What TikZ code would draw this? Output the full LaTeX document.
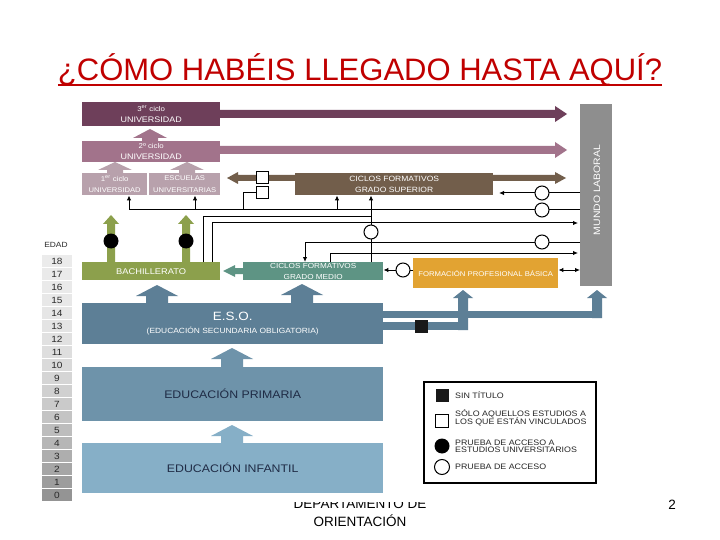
\documentclass[tikz,border=0pt]{standalone}
\usepackage{fontspec}
\setmainfont{Liberation Sans}
\newfontfamily\wf[FakeStretch=1.12]{Liberation Sans}
\usetikzlibrary{arrows.meta}
\definecolor{cTres}{HTML}{6E3F5A}
\definecolor{cDos}{HTML}{A2738B}
\definecolor{cUno}{HTML}{B8A1AC}
\definecolor{cBrown}{HTML}{725E4B}
\definecolor{cGreen}{HTML}{8CA04C}
\definecolor{cTeal}{HTML}{5E9484}
\definecolor{cOrange}{HTML}{E2A332}
\definecolor{cGray}{HTML}{8E8E8E}
\definecolor{cEso}{HTML}{5D7F96}
\definecolor{cPrim}{HTML}{6E93AA}
\definecolor{cInf}{HTML}{86AFC7}
\definecolor{cNavy}{HTML}{1F2B45}
\definecolor{cTitle}{HTML}{C00000}
\definecolor{cAge}{HTML}{2A2A2A}
\newcommand{\fsz}[1]{\fontsize{#1}{#1}\selectfont}
\newcommand{\barR}[7]{\fill[#7] (#2,#1-#4) -- (#3-#6,#1-#4) -- (#3-#6,#1-#5) -- (#3,#1) -- (#3-#6,#1+#5) -- (#3-#6,#1+#4) -- (#2,#1+#4) -- cycle;}
\newcommand{\barL}[7]{\fill[#7] (#2,#1-#4) -- (#3+#6,#1-#4) -- (#3+#6,#1-#5) -- (#3,#1) -- (#3+#6,#1+#5) -- (#3+#6,#1+#4) -- (#2,#1+#4) -- cycle;}
\newcommand{\barU}[7]{\fill[#7] (#1-#4,#2) -- (#1-#4,#3+#6) -- (#1-#5,#3+#6) -- (#1,#3) -- (#1+#5,#3+#6) -- (#1+#4,#3+#6) -- (#1+#4,#2) -- cycle;}
\begin{document}
\begin{tikzpicture}[x=1pt,y=-1pt,
  box/.style={inner sep=0pt, anchor=north west, text=white, align=center, font=\wf},
  ln/.style={line width=1pt, black},
  arr/.style={-{Latex[length=5pt,width=4.5pt]}},
  circ/.style={circle, draw, line width=1pt, fill=white, minimum size=14pt, inner sep=0pt},
  bcirc/.style={circle, fill=black, minimum size=15pt, inner sep=0pt},
  wsq/.style={draw, line width=1pt, fill=white, minimum size=12pt, inner sep=0pt},
  bsq/.style={fill=black!90, minimum size=13pt, inner sep=0pt},
  legtxt/.style={anchor=west, align=left, font=\wf\fsz{7.9}, text=black!85, inner sep=0pt}]
\useasboundingbox (0,0) rectangle (720,540);
\fill[white] (0,0) rectangle (720,540);
% title
\node[font=\fsz{31}, text=cTitle, anchor=base, inner sep=0pt] (title) at (360,81) {¿CÓMO HABÉIS LLEGADO HASTA AQUÍ?};
\draw[cTitle, line width=1.8pt] (title.base west |- 0,85) -- (title.base east |- 0,85);
% age column
\node[font=\wf\fsz{7.5}, text=cAge] (edad) at (56,245) {EDAD};
\foreach \a in {0,...,18}{
  \pgfmathsetmacro\yy{261+(18-\a)*13}
  \pgfmathsetmacro\sh{8+34*((18-\a)/18)^2}
  \fill[black!\sh!white] (42,\yy-6.3) rectangle (72,\yy+6);
  \node[font=\wf\fsz{9}, text=cAge] (age\a) at (57,\yy) {\a};
}
% boxes
\node[box, fill=cTres, minimum width=138pt, minimum height=24pt] (u3) at (82,102) {\fsz{7}3\textsuperscript{er} ciclo\\[-0.5pt]\fsz{8}UNIVERSIDAD};
\node[box, fill=cDos, minimum width=138pt, minimum height=21pt] (u2) at (82,141) {\fsz{7}2º ciclo\\[-1pt]\fsz{8}UNIVERSIDAD};
\node[box, fill=cUno, minimum width=65pt, minimum height=22pt] (u1) at (82,173) {\fsz{7}1\textsuperscript{er} ciclo\\[-0.5pt]\fsz{6.8}UNIVERSIDAD};
\node[box, fill=cUno, minimum width=71pt, minimum height=22pt] (esc) at (149,173) {\fsz{6.8}ESCUELAS\\[-0.5pt]\fsz{6.8}UNIVERSITARIAS};
\node[box, fill=cBrown, minimum width=198pt, minimum height=22pt] (gs) at (295,173) {\fsz{7.6}CICLOS FORMATIVOS\\[-1pt]\fsz{7.6}GRADO SUPERIOR};
\node[box, fill=cGreen, minimum width=138pt, minimum height=18pt] (bach) at (82,262) {\fsz{8.3}BACHILLERATO};
\node[box, fill=cTeal, minimum width=140pt, minimum height=18pt] (gm) at (243,262) {\fsz{7.3}CICLOS FORMATIVOS\\[-1.2pt]\fsz{7.3}GRADO MEDIO};
\node[box, fill=cOrange, minimum width=145pt, minimum height=30pt] (fpb) at (413,258) {\fsz{6.9}FORMACIÓN PROFESIONAL BÁSICA};
\node[box, fill=cGray, minimum width=32pt, minimum height=182pt] (ml) at (580,104) {};
\node[rotate=90, font=\wf\fsz{9.3}, text=white, inner sep=0pt] (mltxt) at (597,190) {MUNDO LABORAL};
\node[box, fill=cEso, minimum width=301pt, minimum height=41pt] (eso) at (82,303) {\fsz{12}E.S.O.\\[1pt]\fsz{7.5}(EDUCACIÓN SECUNDARIA OBLIGATORIA)};
\node[box, fill=cPrim, minimum width=301pt, minimum height=54pt, text=cNavy] (prim) at (82,367) {\fsz{11}EDUCACIÓN PRIMARIA};
\node[box, fill=cInf, minimum width=301pt, minimum height=50pt, text=cNavy] (inf) at (82,443) {\fsz{11}EDUCACIÓN INFANTIL};
% thick arrows
\barR{114}{220}{567}{4}{8}{12}{cTres}
\barR{150}{220}{567}{4}{8}{12}{cDos}
\barR{178}{493}{566}{3}{6}{11}{cBrown}
\barL{178}{295}{227}{3}{6}{11}{cBrown}
\barL{271}{243}{223}{3}{6}{12}{cTeal}
\barU{150}{141}{129}{8}{17}{9}{cDos}
\barU{115}{173}{162}{8}{17}{8}{cUno}
\barU{187}{173}{162}{8}{17}{8}{cUno}
\barU{111}{262}{215}{4}{8}{9}{cGreen}
\barU{186}{262}{215}{4}{8}{9}{cGreen}
\barU{157}{303}{285}{11}{21}{11}{cEso}
\barU{302}{303}{284}{11}{21}{11}{cEso}
\barU{232}{367}{348}{11}{21}{11}{cPrim}
\barU{232}{443}{425}{11}{21}{11}{cInf}
% ESO pipes
\fill[cEso] (383,311) rectangle (602,318);
\barU{597}{318}{290}{5}{10}{8}{cEso}
\fill[cEso] (383,322) rectangle (468,330);
\barU{463}{330}{290}{5}{10}{8}{cEso}
% thin connectors
\coordinate (sq2w) at (256,193);
\draw[ln,arr] (ml.west |- 0,210) -- (129,210) -- (u1.south -| 129,0);
\draw[ln,arr] (195,210) -- (esc.south -| 195,0);
\draw[ln,arr] (337,210) -- (gs.south -| 337,0);
\draw[ln] (243,210) -- (243,193) -- (sq2w);
\draw[ln] (bach.north -| 203,0) -- (203,217) -- (371,217);
\draw[ln,arr] (bach.north -| 212,0) -- (212,223) -- (578,223);
\draw[ln,arr] (gm.north -| 371,0) -- (gs.south -| 371,0);
\draw[ln,arr] (ml.west |- 0,242) -- (305,242) -- (gm.north -| 305,0);
\draw[ln,arr] (gm.north -| 330,0) -- (330,253) -- (578,253);
\draw[ln,arr] (ml.west |- 0,193) -- (499,193);
\draw[ln,{Latex[length=5pt,width=4.5pt]}-{Latex[length=5pt,width=4.5pt]}] (fpb.east |- 0,270) -- (ml.west |- 0,270);
\draw[ln,arr] (fpb.west |- 0,270) -- (gm.east |- 0,270);
% markers
\node[circ] (k1) at (542,193) {};
\node[circ] (k2) at (542,210) {};
\node[circ] (k3) at (371,232) {};
\node[circ] (k4) at (542,242) {};
\node[circ] (k5) at (403,270) {};
\node[bcirc] (b1) at (111,241) {};
\node[bcirc] (b2) at (186,241) {};
\node[wsq] (s1) at (262,178) {};
\node[wsq] (s2) at (262,193) {};
\node[bsq] (s3) at (421,326) {};
% legend
\node[draw, line width=1.5pt, minimum width=172pt, minimum height=101pt, anchor=north west, inner sep=0pt] (leg) at (423,381) {};
\node[bsq] (lg1) at (442,395) {};
\node[legtxt] (lt1) at (455,395) {SIN TÍTULO};
\node[wsq, minimum size=12.5pt] (lg2) at (442,421) {};
\node[legtxt] (lt2) at (455,418) {SÓLO AQUELLOS ESTUDIOS A\\[-1pt]LOS QUE ESTÁN VINCULADOS};
\node[bcirc] (lg3) at (442,446) {};
\node[legtxt] (lt3) at (455,446) {PRUEBA DE ACCESO A\\[-1pt]ESTUDIOS UNIVERSITARIOS};
\node[circ, minimum size=15pt] (lg4) at (442,467) {};
\node[legtxt] (lt4) at (455,467) {PRUEBA DE ACCESO};
% footer
\begin{scope}
\clip (250,502) rectangle (470,540);
\node[font=\fsz{13.5}, anchor=base, inner sep=0pt] (dep) at (360,508) {DEPARTAMENTO DE};
\end{scope}
\node[font=\fsz{13.5}, anchor=base, inner sep=0pt] (ori) at (360,526) {ORIENTACIÓN};
\node[font=\fsz{13.5}, anchor=base, inner sep=0pt] (pg) at (672,509) {2};
\end{tikzpicture}
\end{document}
